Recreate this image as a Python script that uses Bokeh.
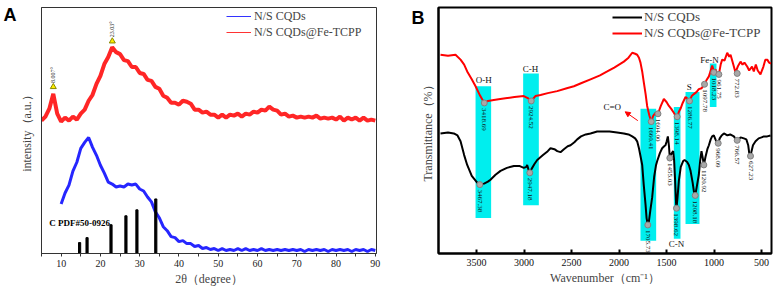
import math
from bokeh.plotting import figure
from bokeh.layouts import row
from bokeh.models import (Range1d, FixedTicker, Legend, LegendItem, Arrow, NormalHead,
                          LinearAxis)
from bokeh.core.properties import value
from bokeh.embed import file_html
from bokeh.resources import INLINE

SERIF = "Liberation Serif"

# ---------------- Panel A data (XRD) ----------------
xrd_red_x = list(range(5, 91))
xrd_red_y = [134, 138, 146, 161, 141, 133, 137, 134, 138, 135,
             141, 145, 154, 160, 171, 179, 191, 198, 208, 203,
             201, 195, 194, 188, 188, 182, 181, 175, 174, 168,
             166, 159, 157, 152, 152, 150, 154, 153, 151, 145,
             145, 142, 143, 140, 140, 137, 140, 137, 140, 139,
             141, 138, 141, 140, 143, 142, 145, 144, 148, 145,
             144, 140, 141, 138, 139, 137, 138, 137, 138, 137,
             139, 136, 137, 136, 137, 135, 138, 134, 137, 135,
             137, 134, 137, 134, 135, 134]
xrd_blue_x = list(range(10, 91))
xrd_blue_y = [50, 61, 69, 83, 92, 106, 112, 117, 107, 99,
              89, 81, 72, 70, 67, 68, 67, 70, 69, 70,
              65, 63, 57, 52, 42, 36, 27, 23, 17, 16,
              12, 13, 10, 10, 7, 8, 5, 6, 4, 5,
              3, 5, 3, 4, 3, 5, 3, 5, 3, 4,
              3, 5, 3, 4, 3, 4, 3, 4, 3, 4,
              3, 4, 2, 4, 3, 4, 3, 4, 2, 4,
              3, 4, 3, 4, 2, 4, 3, 4, 2, 4, 3]
pdf_pos = [14.7, 16.6, 22.7, 26.5, 29.3, 34.1]
pdf_h = [11, 16, 29, 38, 44, 55]
peak_x = [8.007, 23.03]
peak_y = [168, 214]
peak_lbl = ["8.007°", "23.03°"]
xrd_ticks = [10, 20, 30, 40, 50, 60, 70, 80, 90]
xrd_minor = [5, 15, 25, 35, 45, 55, 65, 75, 85]

# ---------------- Panel B data (FTIR) ----------------
red_w = [3879, 3800, 3721, 3668, 3630, 3598, 3550, 3510, 3460, 3418, 3380, 3318, 3250, 3177,
         3100, 3002, 2960, 2924, 2880, 2826, 2750, 2651, 2550, 2475, 2400, 2300, 2200, 2124,
         2050, 1949, 1900, 1861, 1830, 1809, 1790, 1774, 1756, 1739, 1720, 1704, 1680, 1661,
         1640, 1616, 1600, 1590, 1560, 1528, 1500, 1475, 1450, 1430, 1410, 1395, 1388, 1370,
         1353, 1330, 1300, 1275, 1258, 1235, 1212, 1185, 1160, 1130, 1100, 1080, 1054, 1035,
         1019, 1002, 985, 965, 949, 930, 914, 890, 861, 840, 826, 800, 774, 750, 721, 700,
         680, 651, 630, 600, 581, 560, 540, 511, 480, 460, 440, 420, 400]
red_t = [202, 201, 202, 197, 192, 185, 177, 170, 160, 153, 155, 156, 157, 158,
         159, 160, 158, 155, 160, 161, 163, 165, 168, 170, 173, 177, 181, 185,
         189, 195, 199, 204, 203, 202, 199, 194, 185, 174, 162, 150, 140, 134,
         140, 143, 141, 142, 150, 157, 154, 150, 147, 144, 141, 139, 139, 144,
         147, 153, 159, 157, 155, 160, 162, 164, 167, 168, 172, 176, 180, 186,
         191, 185, 187, 183, 182, 192, 197, 196, 204, 200, 202, 193, 184, 190, 195, 192,
         194, 190, 186, 190, 185, 192, 186, 182, 190, 197, 197, 194, 193]
blk_w = [3879, 3800, 3739, 3700, 3668, 3630, 3598, 3550, 3493, 3465, 3420, 3380, 3353, 3300,
         3247, 3180, 3107, 3050, 3002, 2975, 2967, 2955, 2939, 2920, 2890, 2861, 2800, 2750,
         2721, 2680, 2650, 2616, 2580, 2540, 2510, 2470, 2440, 2400, 2350, 2300, 2230, 2160,
         2100, 2020, 1949, 1900, 1861, 1830, 1809, 1790, 1770, 1756, 1740, 1721, 1710, 1697,
         1685, 1670, 1651, 1630, 1610, 1598, 1570, 1546, 1525, 1511, 1498, 1486, 1475, 1465,
         1450, 1430, 1420, 1410, 1400, 1395, 1385, 1370, 1350, 1325, 1310, 1283, 1265, 1247,
         1225, 1210, 1198, 1185, 1160, 1145, 1132, 1120, 1107, 1090, 1070, 1054, 1035, 1020,
         1002, 985, 970, 956, 940, 920, 896, 860, 830, 791, 770, 756, 740, 720, 686, 660,
         640, 628, 616, 605, 590, 563, 530, 500, 475, 440, 405]
blk_t = [122, 123, 122, 120, 114, 100, 90, 79, 72, 70, 71, 73, 75, 80,
         84, 87, 89, 89, 87, 88, 90, 86, 82, 86, 91, 95, 100, 104,
         107, 106, 104, 103, 106, 109, 110, 113, 116, 119, 121, 122, 124, 124,
         124, 123, 122, 121, 119, 117, 114, 107, 97, 90, 70, 50, 36, 29,
         33, 44, 57, 78, 90, 94, 102, 107, 109, 110, 114, 119, 110, 97,
         101, 104, 95, 75, 52, 46, 56, 74, 88, 94, 95, 93, 90, 84,
         72, 62, 59, 66, 80, 95, 104, 98, 90, 98, 106, 110, 116, 119,
         120, 116, 113, 112, 117, 120, 122, 120, 121, 119, 116, 115, 116, 118, 117, 116,
         110, 101, 99, 104, 110, 114, 117, 118, 119, 119, 120]

band_left = [3510, 3009, 1774, 1423, 1300, 1044]
band_right = [3346, 2844, 1609, 1353, 1153, 974]
band_bottom = [36, 49, 13, 15, 30, 149]
band_top = [170, 183, 147, 149, 164, 193]

grp_lbl = ["O-H", "C-H", "C=O", "C-N", "S", "Fe-N"]
grp_w = [3423, 2932, 2072, 1395, 1261, 1047]
grp_t = [176, 188, 149, 10, 169, 197]

red_pk_w = [3418, 2924, 1661, 1590, 1388, 1258, 1100, 1002, 949, 756]
red_pk_t = [153, 155, 134, 142, 139, 155, 172, 184, 182, 183]
red_pk_lbl = ["3418.69", "2924.52", "1660.41", "1604.00", "1398.14", "1286.77",
              "1097.78", "1018.23", "961.75", "772.83"]
blk_pk_w = [3465, 2939, 1697, 1465, 1395, 1198, 1107, 956, 756, 616]
blk_pk_t = [70, 82, 29, 97, 46, 59, 90, 112, 115, 99]
blk_pk_lbl = ["3467.38", "2947.18", "1705.73", "1455.03", "1398.62", "1208.18",
              "1120.92", "968.09", "766.57", "627.23"]
ftir_ticks = [500, 1000, 1500, 2000, 2500, 3000, 3500]


def panel_letter(p, yval, letter, standoff):
    ax = LinearAxis(ticker=FixedTicker(ticks=[yval]), major_label_overrides={yval: letter})
    ax.axis_line_color = None
    ax.major_tick_line_color = None
    ax.minor_tick_line_color = None
    ax.major_tick_out = 0
    ax.major_tick_in = 0
    ax.major_label_standoff = standoff
    ax.major_label_text_font = "Liberation Sans"
    ax.major_label_text_font_style = "bold"
    ax.major_label_text_font_size = "18px"
    ax.major_label_text_color = "black"
    p.add_layout(ax, "left")


# ---------------- Panel A ----------------
pa = figure(width=388, height=291, output_backend="svg", toolbar_location=None,
            x_range=Range1d(5, 90.3), y_range=Range1d(0, 248),
            min_border_left=40, min_border_right=12, min_border_top=5, min_border_bottom=38)
pa.grid.visible = False
pa.outline_line_color = "#333333"
pa.outline_line_width = 1

pa.line(xrd_red_x, xrd_red_y, line_color="#ff1a1a", line_width=4, line_alpha=0.95)
pa.line(xrd_blue_x, xrd_blue_y, line_color="#1a1aff", line_width=3, line_alpha=0.95)
pa.vbar(x=pdf_pos, top=pdf_h, bottom=0, width=0.55, color="black")
pa.scatter(peak_x, peak_y, marker="triangle", size=6, fill_color="#ffee00", line_color="#888800")
pa.text(x=peak_x, y=[v + 4 for v in peak_y], text=peak_lbl, angle=math.pi / 2,
        text_align="left", text_baseline="middle", text_font=value(SERIF),
        text_font_size="6px", text_color="#222222")
pa.text(x=[7.0], y=[31], text=["C PDF#50-0926"], text_align="left", text_baseline="middle",
        text_font=value(SERIF), text_font_size="9px", text_font_style="bold", text_color="black")

xa = pa.xaxis[0]
xa.ticker = FixedTicker(ticks=xrd_ticks, minor_ticks=xrd_minor)
xa.major_tick_out = 3
xa.major_tick_in = 0
xa.minor_tick_out = 3
xa.minor_tick_in = 0
xa.axis_line_color = "#333333"
xa.major_tick_line_color = "#333333"
xa.minor_tick_line_color = "#333333"
xa.major_label_text_font = SERIF
xa.major_label_text_font_size = "10px"
xa.major_label_text_color = "#222222"
xa.major_label_standoff = 3
xa.axis_label = "2θ（degree）"
xa.axis_label_text_font = SERIF
xa.axis_label_text_font_size = "12px"
xa.axis_label_text_font_style = "normal"
xa.axis_label_standoff = 2

ya = pa.yaxis[0]
ya.ticker = FixedTicker(ticks=[])
ya.major_tick_out = 0
ya.major_tick_in = 0
ya.axis_line_color = "#333333"
ya.axis_label = "intensity（a.u.）"
ya.axis_label_text_font = SERIF
ya.axis_label_text_font_size = "12px"
ya.axis_label_text_font_style = "normal"
ya.axis_label_standoff = 8

panel_letter(pa, 240, "A", 0)

leg_b = pa.line([-50, -40], [-50, -40], line_color="#3333ff", line_width=1)
leg_r = pa.line([-50, -40], [-50, -40], line_color="#ff3333", line_width=1)
lega = Legend(items=[LegendItem(label="N/S CQDs", renderers=[leg_b]),
                     LegendItem(label="N/S CQDs@Fe-TCPP", renderers=[leg_r])],
              location=(185, 213), orientation="vertical")
lega.label_text_font = SERIF
lega.label_text_font_size = "12px"
lega.glyph_width = 25
lega.glyph_height = 16
lega.label_height = 16
lega.label_standoff = 3
lega.spacing = 0
lega.padding = 0
lega.margin = 0
lega.border_line_color = None
lega.background_fill_alpha = 0
pa.add_layout(lega, "center")

# ---------------- Panel B ----------------
pb = figure(width=388, height=291, output_backend="svg", toolbar_location=None,
            x_range=Range1d(3900, 395), y_range=Range1d(0, 250),
            min_border_left=50, min_border_right=5, min_border_top=7, min_border_bottom=34)
pb.grid.visible = False
pb.outline_line_color = "black"
pb.outline_line_width = 2

pb.quad(left=band_left, right=band_right, bottom=band_bottom, top=band_top,
        fill_color="#00eeee", line_color=None)
pb.line(red_w, red_t, line_color="#ff0000", line_width=2)
pb.line(blk_w, blk_t, line_color="black", line_width=2)
pb.scatter(red_pk_w, red_pk_t, size=6, fill_color="#a8a8a8", line_color="#808080")
pb.scatter(blk_pk_w, blk_pk_t, size=6, fill_color="#a8a8a8", line_color="#808080")
pb.text(x=red_pk_w, y=red_pk_t, text=red_pk_lbl, angle=-math.pi / 2, y_offset=5,
        text_align="left", text_baseline="middle", text_font=value(SERIF),
        text_font_size="7px", text_color="#111111")
pb.text(x=blk_pk_w, y=blk_pk_t, text=blk_pk_lbl, angle=-math.pi / 2, y_offset=5,
        text_align="left", text_baseline="middle", text_font=value(SERIF),
        text_font_size="7px", text_color="#111111")
pb.text(x=grp_w, y=grp_t, text=grp_lbl, text_align="center", text_baseline="middle",
        text_font=value(SERIF), text_font_size="9px", text_color="#111111")
pb.add_layout(Arrow(x_start=1802, y_start=135, x_end=1935, y_end=144,
                    line_color="#ff0000", line_width=1,
                    end=NormalHead(size=5, fill_color="#ff0000", line_color="#ff0000")))

xb = pb.xaxis[0]
xb.ticker = FixedTicker(ticks=ftir_ticks)
xb.major_tick_in = 4
xb.major_tick_out = 0
xb.minor_tick_line_color = None
xb.axis_line_width = 2
xb.major_tick_line_width = 2
xb.major_label_text_font = SERIF
xb.major_label_text_font_size = "10px"
xb.major_label_text_color = "#111111"
xb.major_label_standoff = 5
xb.axis_label = "Wavenumber（cm⁻¹）"
xb.axis_label_text_font = SERIF
xb.axis_label_text_font_size = "12px"
xb.axis_label_text_font_style = "normal"
xb.axis_label_standoff = 2

yb = pb.yaxis[0]
yb.ticker = FixedTicker(ticks=[])
yb.major_tick_out = 0
yb.major_tick_in = 0
yb.axis_line_width = 2
yb.axis_label = "Transmittance（%）"
yb.axis_label_text_font = SERIF
yb.axis_label_text_font_size = "12px"
yb.axis_label_text_font_style = "normal"
yb.axis_label_standoff = 4

panel_letter(pb, 239, "B", -7)

leg_k = pb.line([9000, 9001], [-50, -40], line_color="black", line_width=2)
leg_r2 = pb.line([9000, 9001], [-50, -40], line_color="#ff0000", line_width=2)
legb = Legend(items=[LegendItem(label="N/S CQDs", renderers=[leg_k]),
                     LegendItem(label="N/S CQDs@Fe-TCPP", renderers=[leg_r2])],
              location=(174, 212), orientation="vertical")
legb.label_text_font = SERIF
legb.label_text_font_size = "13px"
legb.glyph_width = 30
legb.glyph_height = 14
legb.label_height = 14
legb.label_standoff = 2
legb.spacing = 0
legb.padding = 0
legb.margin = 0
legb.border_line_color = None
legb.background_fill_alpha = 0
pb.add_layout(legb, "center")

layout = row(pa, pb)
open("out.html", "w").write(file_html(layout, INLINE))
